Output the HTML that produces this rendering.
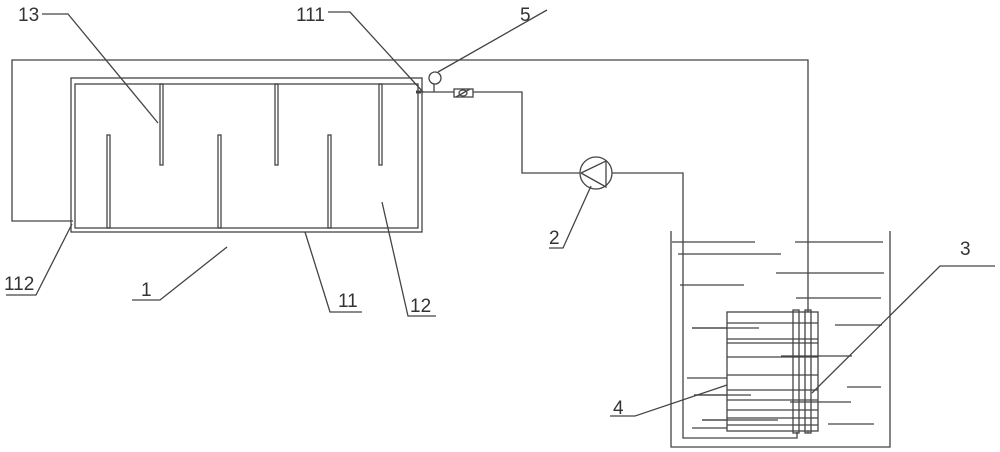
<!DOCTYPE html>
<html><head><meta charset="utf-8"><style>
html,body{margin:0;padding:0;background:#fff;}
svg{display:block}
text{font-family:"Liberation Sans",sans-serif;font-size:19px;fill:#333;}
</style></head><body>
<svg width="1000" height="452" viewBox="0 0 1000 452" xmlns="http://www.w3.org/2000/svg">
<g stroke="#444" stroke-width="1.3" fill="none">
<polyline points="73,221 12,221 12,60 808,60 808,433"/>
<rect x="71" y="78" width="351" height="154"/>
<rect x="75" y="84" width="343" height="144"/>
<rect x="160" y="84" width="3" height="81"/>
<rect x="275" y="84" width="3" height="81"/>
<rect x="379" y="84" width="3" height="81"/>
<rect x="107" y="135" width="3" height="93"/>
<rect x="218" y="135" width="3" height="93"/>
<rect x="328" y="135" width="3" height="93"/>
<polyline points="416,92 522,92 522,173 683,173 683,438 797,438 797,432"/>
<line x1="416" y1="92" x2="421" y2="92" stroke-width="3"/>
<line x1="434" y1="84" x2="434" y2="92"/>
<circle cx="435" cy="78" r="6" fill="#fff"/>
<rect x="454" y="89" width="19" height="8" fill="#fff"/>
<ellipse cx="463" cy="93" rx="4" ry="3"/>
<line x1="456" y1="97" x2="470" y2="89"/>
<circle cx="596" cy="173" r="16" fill="#fff"/>
<polyline points="581,173 606,161 606,187 581,173"/>
<polyline points="671,231 671,447 890,447 890,231"/>
<line x1="672" y1="242" x2="755" y2="242"/><line x1="795" y1="242" x2="883" y2="242"/>
<line x1="678" y1="254" x2="781" y2="254"/><line x1="776" y1="273" x2="884" y2="273"/>
<line x1="680" y1="285" x2="744" y2="285"/><line x1="796" y1="298" x2="881" y2="298"/>
<line x1="692" y1="328" x2="759" y2="328"/><line x1="835" y1="325" x2="882" y2="325"/>
<line x1="781" y1="356" x2="852" y2="356"/><line x1="687" y1="378" x2="785" y2="378"/>
<line x1="847" y1="387" x2="881" y2="387"/><line x1="694" y1="395" x2="751" y2="395"/>
<line x1="790" y1="402" x2="851" y2="402"/><line x1="702" y1="420" x2="778" y2="420"/>
<line x1="828" y1="424" x2="874" y2="424"/><line x1="692" y1="428" x2="728" y2="428"/>
<rect x="727" y="312" width="91" height="119" fill="#fff"/>
<line x1="727" y1="323" x2="818" y2="323"/>
<line x1="727" y1="339" x2="818" y2="339"/>
<line x1="727" y1="343" x2="818" y2="343"/>
<line x1="727" y1="357" x2="818" y2="357"/>
<line x1="727" y1="375" x2="818" y2="375"/>
<line x1="727" y1="390" x2="818" y2="390"/>
<line x1="727" y1="400" x2="818" y2="400"/>
<line x1="727" y1="410" x2="818" y2="410"/>
<line x1="727" y1="418" x2="818" y2="418"/>
<line x1="727" y1="425" x2="818" y2="425"/>
<line x1="692" y1="328" x2="759" y2="328"/>
<line x1="694" y1="395" x2="751" y2="395"/>
<line x1="702" y1="420" x2="778" y2="420"/>
<line x1="790" y1="402" x2="818" y2="402"/>
<line x1="781" y1="356" x2="818" y2="356"/>
<rect x="793" y="310" width="6" height="123"/>
<rect x="805" y="310" width="6" height="123"/>
<polyline points="42,14 68,14 158,123"/>
<polyline points="328,12 350,12 423,92"/>
<polyline points="547,10 438,72"/>
<polyline points="549,248 563,248 591,186"/>
<polyline points="995,266 940,266 812,393"/>
<polyline points="610,416 635,416 727,385"/>
<polyline points="6,295 36,295 72,224"/>
<polyline points="132,300 160,300 227,247"/>
<polyline points="362,312 330,312 305,232"/>
<polyline points="436,316 408,316 382,202"/>
</g>
<text x="18" y="21">13</text>
<text x="296" y="21">111</text>
<text x="520" y="21">5</text>
<text x="549" y="244">2</text>
<text x="960" y="255">3</text>
<text x="613" y="414">4</text>
<text x="4" y="290">112</text>
<text x="141" y="296">1</text>
<text x="338" y="307">11</text>
<text x="410" y="312">12</text>
</svg>
</body></html>
